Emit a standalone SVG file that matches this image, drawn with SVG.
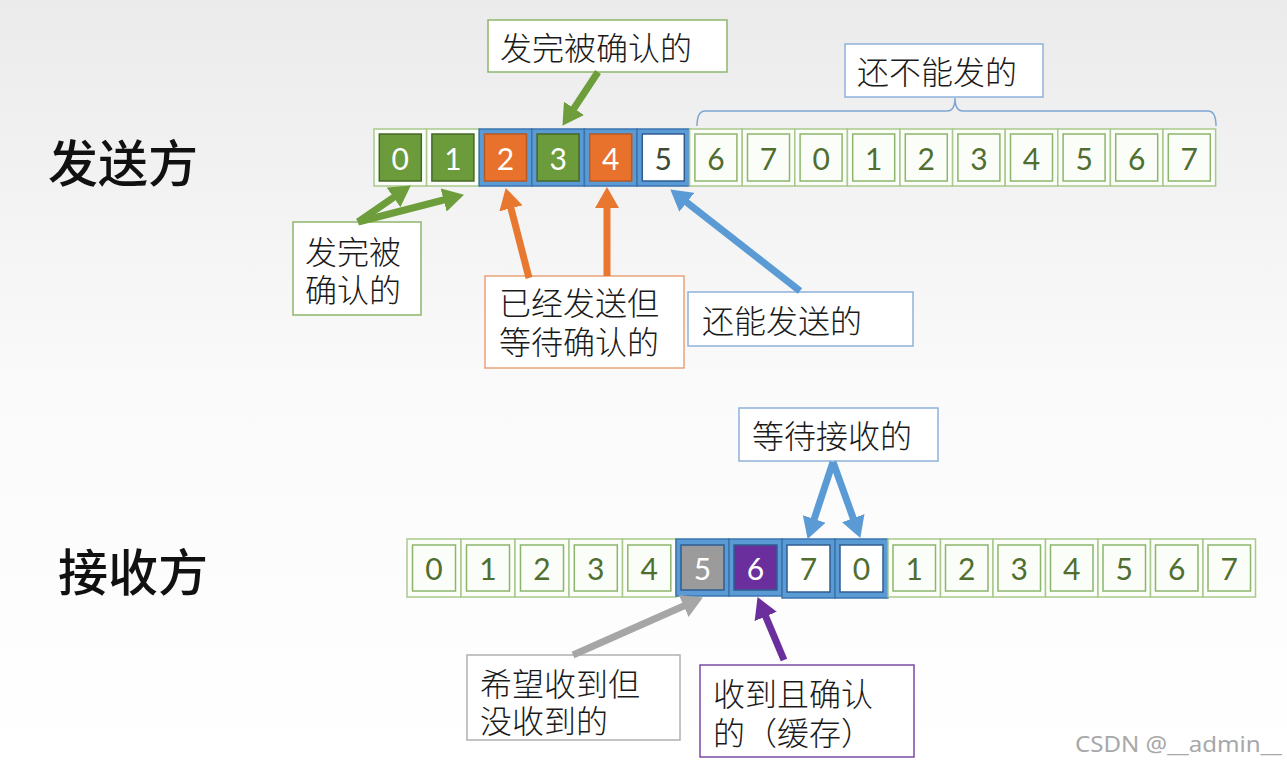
<svg xmlns="http://www.w3.org/2000/svg" width="1287" height="766" viewBox="0 0 1287 766">
<defs>
<linearGradient id="bg" x1="0" y1="0" x2="0" y2="1">
<stop offset="0" stop-color="#ebebeb"/>
<stop offset="0.5" stop-color="#fafafa"/>
<stop offset="1" stop-color="#ffffff"/>
</linearGradient>
<marker id="mg" markerUnits="userSpaceOnUse" markerWidth="22" markerHeight="24" refX="8" refY="12" orient="auto"><path d="M0,0 L21,12 L0,24 z" fill="#6e9e3c"/></marker>
<marker id="mo" markerUnits="userSpaceOnUse" markerWidth="22" markerHeight="24" refX="8" refY="12" orient="auto"><path d="M0,0 L21,12 L0,24 z" fill="#e8772f"/></marker>
<marker id="mb" markerUnits="userSpaceOnUse" markerWidth="22" markerHeight="24" refX="8" refY="12" orient="auto"><path d="M0,0 L21,12 L0,24 z" fill="#5b9bd5"/></marker>
<marker id="mgr" markerUnits="userSpaceOnUse" markerWidth="22" markerHeight="24" refX="8" refY="12" orient="auto"><path d="M0,0 L21,12 L0,24 z" fill="#a6a6a6"/></marker>
<marker id="mp" markerUnits="userSpaceOnUse" markerWidth="22" markerHeight="24" refX="8" refY="12" orient="auto"><path d="M0,0 L21,12 L0,24 z" fill="#6a2f9c"/></marker>
</defs>
<style>
.oc{fill:#fbfdf8;stroke:#a9c98c;stroke-width:1.5}
.ob{fill:#5b9bd5;stroke:#3a74ad;stroke-width:1.5}
.iw{fill:#fbfdf8;stroke:#8db56b;stroke-width:1.5}
.ig{fill:#6b9b3a;stroke:#45672a;stroke-width:1.5}
.io{fill:#e8722c;stroke:#b65a25;stroke-width:1.5}
.ibw{fill:#ffffff;stroke:#2f5f90;stroke-width:1.5}
.igr{fill:#9b9b9b;stroke:#2f5f90;stroke-width:1.5}
.ip{fill:#6a2f9c;stroke:#2f5f90;stroke-width:1.5}
.n{font-family:Lato,"Liberation Sans",sans-serif;font-size:30px;fill:#4f6e30;text-anchor:middle;dominant-baseline:central}
.nw{fill:#ffffff}
.nd{fill:#3c4a36}
.lb{fill:#ffffff;stroke-width:1.5}
.t{font-family:"Noto Sans CJK SC",sans-serif;font-size:32px;font-weight:300;fill:#1a1a1a;dominant-baseline:central}
.big{font-family:"Noto Sans CJK SC",sans-serif;font-size:50px;font-weight:500;fill:#111111;dominant-baseline:central}
.ar{fill:none;stroke-width:7}
</style>
<rect width="1287" height="766" fill="url(#bg)"/>

<text class="big" x="48" y="160">发送方</text>
<text class="big" x="58" y="569">接收方</text>

<g id="sender-row">
<g id="s0" transform="translate(374,129)"><rect class="oc" width="52.6" height="57"/><rect class="ig" x="5.3" y="5" width="42" height="47"/><text class="n nw" x="26.3" y="29">0</text></g>
<g id="s1" transform="translate(426.6,129)"><rect class="oc" width="52.6" height="57"/><rect class="ig" x="5.3" y="5" width="42" height="47"/><text class="n nw" x="26.3" y="29">1</text></g>
<g id="s2" transform="translate(479.2,129)"><rect class="ob" width="52.6" height="57"/><rect class="io" x="5.3" y="5" width="42" height="47"/><text class="n nw" x="26.3" y="29">2</text></g>
<g id="s3" transform="translate(531.8,129)"><rect class="ob" width="52.6" height="57"/><rect class="ig" x="5.3" y="5" width="42" height="47"/><text class="n nw" x="26.3" y="29">3</text></g>
<g id="s4" transform="translate(584.4,129)"><rect class="ob" width="52.6" height="57"/><rect class="io" x="5.3" y="5" width="42" height="47"/><text class="n nw" x="26.3" y="29">4</text></g>
<g id="s5" transform="translate(637,129)"><rect class="ob" width="52.6" height="57"/><rect class="ibw" x="5.3" y="5" width="42" height="47"/><text class="n nd" x="26.3" y="29">5</text></g>
<g id="s6" transform="translate(689.6,129)"><rect class="oc" width="52.6" height="57"/><rect class="iw" x="5.3" y="5" width="42" height="47"/><text class="n" x="26.3" y="29">6</text></g>
<g id="s7" transform="translate(742.2,129)"><rect class="oc" width="52.6" height="57"/><rect class="iw" x="5.3" y="5" width="42" height="47"/><text class="n" x="26.3" y="29">7</text></g>
<g id="s8" transform="translate(794.8,129)"><rect class="oc" width="52.6" height="57"/><rect class="iw" x="5.3" y="5" width="42" height="47"/><text class="n" x="26.3" y="29">0</text></g>
<g id="s9" transform="translate(847.4,129)"><rect class="oc" width="52.6" height="57"/><rect class="iw" x="5.3" y="5" width="42" height="47"/><text class="n" x="26.3" y="29">1</text></g>
<g id="s10" transform="translate(900,129)"><rect class="oc" width="52.6" height="57"/><rect class="iw" x="5.3" y="5" width="42" height="47"/><text class="n" x="26.3" y="29">2</text></g>
<g id="s11" transform="translate(952.6,129)"><rect class="oc" width="52.6" height="57"/><rect class="iw" x="5.3" y="5" width="42" height="47"/><text class="n" x="26.3" y="29">3</text></g>
<g id="s12" transform="translate(1005.2,129)"><rect class="oc" width="52.6" height="57"/><rect class="iw" x="5.3" y="5" width="42" height="47"/><text class="n" x="26.3" y="29">4</text></g>
<g id="s13" transform="translate(1057.8,129)"><rect class="oc" width="52.6" height="57"/><rect class="iw" x="5.3" y="5" width="42" height="47"/><text class="n" x="26.3" y="29">5</text></g>
<g id="s14" transform="translate(1110.4,129)"><rect class="oc" width="52.6" height="57"/><rect class="iw" x="5.3" y="5" width="42" height="47"/><text class="n" x="26.3" y="29">6</text></g>
<g id="s15" transform="translate(1163,129)"><rect class="oc" width="52.6" height="57"/><rect class="iw" x="5.3" y="5" width="42" height="47"/><text class="n" x="26.3" y="29">7</text></g>
</g>

<g id="receiver-row">
<g id="r0" transform="translate(407,539)"><rect class="oc" width="54" height="58"/><rect class="iw" x="5.5" y="6" width="43" height="46"/><text class="n" x="27" y="29">0</text></g>
<g id="r1" transform="translate(461,539)"><rect class="oc" width="54" height="58"/><rect class="iw" x="5.5" y="6" width="43" height="46"/><text class="n" x="27" y="29">1</text></g>
<g id="r2" transform="translate(515,539)"><rect class="oc" width="54" height="58"/><rect class="iw" x="5.5" y="6" width="43" height="46"/><text class="n" x="27" y="29">2</text></g>
<g id="r3" transform="translate(569,539)"><rect class="oc" width="53.5" height="58"/><rect class="iw" x="5.3" y="6" width="43" height="46"/><text class="n" x="26.8" y="29">3</text></g>
<g id="r4" transform="translate(622.5,539)"><rect class="oc" width="53.5" height="58"/><rect class="iw" x="5.3" y="6" width="43" height="46"/><text class="n" x="26.8" y="29">4</text></g>
<g id="r5" transform="translate(676,539)"><rect class="ob" width="53" height="57"/><rect class="igr" x="5" y="6" width="43" height="45"/><text class="n nw" x="26.5" y="29">5</text></g>
<g id="r6" transform="translate(729,539)"><rect class="ob" width="53" height="57"/><rect class="ip" x="5" y="6" width="43" height="45"/><text class="n nw" x="26.5" y="29">6</text></g>
<g id="r7" transform="translate(782,539)"><rect class="ob" width="53" height="59"/><rect class="ibw" x="5" y="6" width="43" height="47"/><text class="n" x="26.5" y="29">7</text></g>
<g id="r8" transform="translate(835,539)"><rect class="ob" width="53" height="59"/><rect class="ibw" x="5" y="6" width="43" height="47"/><text class="n" x="26.5" y="29">0</text></g>
<g id="r9" transform="translate(888,539)"><rect class="oc" width="52.5" height="58"/><rect class="iw" x="5" y="6" width="42.5" height="46"/><text class="n" x="26.3" y="29">1</text></g>
<g id="r10" transform="translate(940.5,539)"><rect class="oc" width="52.5" height="58"/><rect class="iw" x="5" y="6" width="42.5" height="46"/><text class="n" x="26.3" y="29">2</text></g>
<g id="r11" transform="translate(993,539)"><rect class="oc" width="52.5" height="58"/><rect class="iw" x="5" y="6" width="42.5" height="46"/><text class="n" x="26.3" y="29">3</text></g>
<g id="r12" transform="translate(1045.5,539)"><rect class="oc" width="52.5" height="58"/><rect class="iw" x="5" y="6" width="42.5" height="46"/><text class="n" x="26.3" y="29">4</text></g>
<g id="r13" transform="translate(1098,539)"><rect class="oc" width="52.5" height="58"/><rect class="iw" x="5" y="6" width="42.5" height="46"/><text class="n" x="26.3" y="29">5</text></g>
<g id="r14" transform="translate(1150.5,539)"><rect class="oc" width="52.5" height="58"/><rect class="iw" x="5" y="6" width="42.5" height="46"/><text class="n" x="26.3" y="29">6</text></g>
<g id="r15" transform="translate(1203,539)"><rect class="oc" width="52.5" height="58"/><rect class="iw" x="5" y="6" width="42.5" height="46"/><text class="n" x="26.3" y="29">7</text></g>
</g>

<g id="label-acked-top"><rect class="lb" x="488" y="20" width="239" height="52" stroke="#8db56b"/><text class="t" x="500" y="46">发完被确认的</text></g>
<g id="label-cannot-send"><rect class="lb" x="845" y="44" width="198" height="53" stroke="#8fb3da"/><text class="t" x="857" y="70">还不能发的</text></g>
<g id="label-acked-left"><rect class="lb" x="293" y="222" width="128" height="93" stroke="#8db56b"/><text class="t" x="305" y="250">发完被</text><text class="t" x="305" y="288">确认的</text></g>
<g id="label-sent-waiting"><rect class="lb" x="485" y="276" width="199" height="92" stroke="#e9a277"/><text class="t" x="499" y="301">已经发送但</text><text class="t" x="499" y="340">等待确认的</text></g>
<g id="label-can-send"><rect class="lb" x="688" y="292" width="225" height="54" stroke="#8fb3da"/><text class="t" x="702" y="319">还能发送的</text></g>
<g id="label-waiting-recv"><rect class="lb" x="739" y="408" width="199" height="53" stroke="#8fb3da"/><text class="t" x="752" y="434">等待接收的</text></g>
<g id="label-expected"><rect class="lb" x="467" y="655" width="213" height="85" stroke="#b0b0b0"/><text class="t" x="480" y="682">希望收到但</text><text class="t" x="480" y="719">没收到的</text></g>
<g id="label-received"><rect class="lb" x="700" y="665" width="214" height="92" stroke="#7a4aa6"/><text class="t" x="713" y="692">收到且确认</text><text class="t" x="713" y="731">的（缓存）</text></g>

<g id="connectors">
<path id="brace" d="M697,126 Q697,111 705,111 L947,111 Q955,111 955,98 Q955,111 963,111 L1208,111 Q1216,111 1216,126" fill="none" stroke="#7ea6d4" stroke-width="1.5"/>
<line class="ar" x1="598" y1="72" x2="569.6" y2="115" stroke="#6e9e3c" marker-end="url(#mg)"/>
<line class="ar" x1="358" y1="222" x2="400.1" y2="192.8" stroke="#6e9e3c" marker-end="url(#mg)"/>
<line class="ar" x1="358" y1="222" x2="451.4" y2="198" stroke="#6e9e3c" marker-end="url(#mg)"/>
<line class="ar" x1="529" y1="278" x2="509" y2="200.6" stroke="#e8772f" marker-end="url(#mo)"/>
<line class="ar" x1="607" y1="276" x2="607" y2="200" stroke="#e8772f" marker-end="url(#mo)"/>
<line class="ar" x1="800" y1="291" x2="680.5" y2="197.4" stroke="#5b9bd5" marker-end="url(#mb)"/>
<line class="ar" x1="833" y1="462" x2="811.7" y2="526.6" stroke="#5b9bd5" marker-end="url(#mb)"/>
<line class="ar" x1="833" y1="462" x2="855.9" y2="525.7" stroke="#5b9bd5" marker-end="url(#mb)"/>
<line class="ar" x1="573" y1="655" x2="691" y2="602.8" stroke="#a6a6a6" marker-end="url(#mgr)"/>
<line class="ar" x1="784" y1="660" x2="762.6" y2="609.1" stroke="#6a2f9c" stroke-width="6" marker-end="url(#mp)"/>
</g>

<text x="1075" y="752" font-family="'Noto Sans',sans-serif" font-size="21" fill="#a8a8a8" textLength="207" lengthAdjust="spacingAndGlyphs">CSDN @__admin__</text>
</svg>
